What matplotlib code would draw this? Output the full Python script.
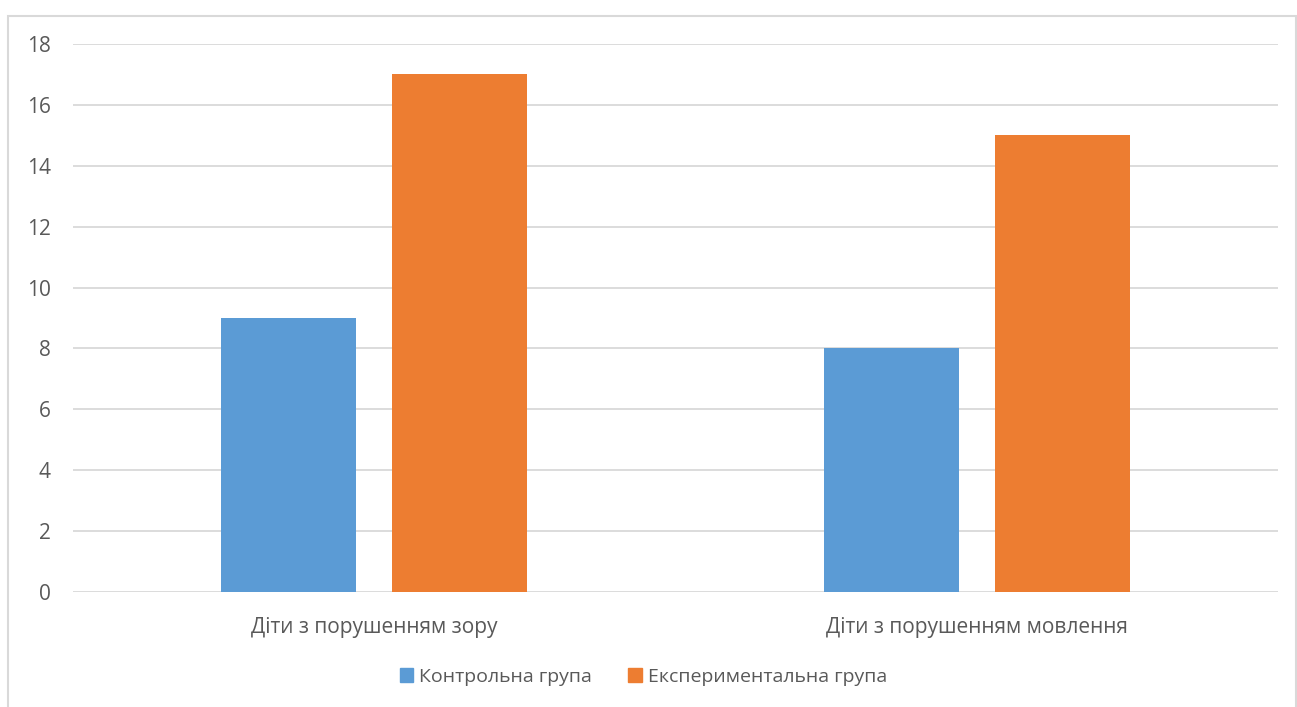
import matplotlib
matplotlib.use('Agg')
from matplotlib import pyplot as plt
from matplotlib.patches import Rectangle, Patch
import numpy as np

categories = ['Діти з порушенням зору', 'Діти з порушенням мовлення']
control = [9, 8]
experimental = [17, 15]
series_names = ['Контрольна група', 'Експериментальна група']
yticks = [0, 2, 4, 6, 8, 10, 12, 14, 16, 18]

blue = '#5B9BD5'
orange = '#ED7D31'
text_color = '#595959'
grid_color = '#D9D9D9'

plt.rcParams['font.family'] = ['Open Sans', 'DejaVu Sans']

fig = plt.figure(figsize=(12.97, 7.07), dpi=100)
ax = fig.add_axes([73 / 1297, 1 - 592 / 707, (1278 - 73) / 1297, (592 - 44) / 707])

x = np.arange(len(categories))
width = 0.224
offset = 0.142
ax.bar(x - offset, control, width, color=blue, zorder=3)
ax.bar(x + offset, experimental, width, color=orange, zorder=3)

ax.set_xlim(-0.5, 1.5)
ax.set_ylim(0, 18)
ax.set_yticks(yticks)
ax.set_xticks(x)
ax.set_xticklabels(categories)
ax.tick_params(axis='both', length=0, labelsize=15, labelcolor=text_color)
ax.tick_params(axis='y', pad=16)
ax.tick_params(axis='x', pad=18)
ax.yaxis.grid(True, color=grid_color, linewidth=1.3, zorder=0)
for s in ax.spines.values():
    s.set_visible(False)

# chart area border
fig.patches.append(Rectangle((8 / 1297, -0.05), (1296 - 8) / 1297, (707 - 16) / 707 + 0.05,
                             transform=fig.transFigure, fill=False,
                             edgecolor=grid_color, linewidth=1.5))

handles = [Patch(color=blue), Patch(color=orange)]
fig.legend(handles, series_names, loc='center', bbox_to_anchor=(0.496, 1 - 677 / 707),
           ncol=2, frameon=False, fontsize=14, labelcolor=text_color,
           handlelength=0.7, handleheight=0.7, handletextpad=0.3, columnspacing=1.85)

fig.savefig('out.png', dpi=100)
